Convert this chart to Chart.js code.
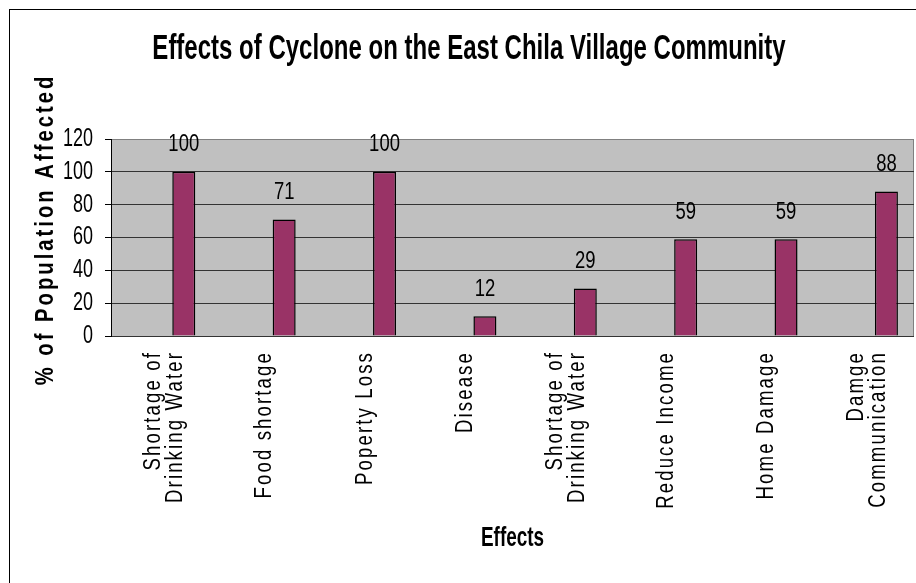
<!DOCTYPE html>
<html>
<head>
<meta charset="utf-8">
<script src="https://cdn.jsdelivr.net/npm/chart.js@4.4.1/dist/chart.umd.min.js"></script>
<style>
  html, body { margin: 0; padding: 0; background: #ffffff; }
  #wrap { width: 916px; height: 583px; }
</style>
</head>
<body>
<div id="wrap"><canvas id="c" width="916" height="583"></canvas></div>
<script>
// ---- data ----
const chartTitle = 'Effects of Cyclone on the East Chila Village Community';
const xTitle = 'Effects';
const yTitle = '% of Population Affected';
const categories = [
  ['Shortage of', 'Drinking Water'],
  'Food shortage',
  'Poperty Loss',
  'Disease',
  ['Shortage of', 'Drinking Water'],
  'Reduce Income',
  'Home Damage',
  ['Damge', 'Communication']
];
const values = [100, 71, 100, 12, 29, 59, 59, 88];
const emptySeries = [];
const yMin = 0;
const yMax = 120;
const yStep = 20;

// ---- styling ----
const FONT = '"Liberation Sans", Arial, sans-serif';
const BAR_COLOR = '#993366';
const PLOT_BG = '#c0c0c0';
const X_LINE_H = 22;

// horizontal squeeze of glyphs (condensed look of the original), keyed by weight+size
const SQUEEZE = { b35: 0.686, b28: 0.675, b25: 0.81, n25: 0.72, n24: 0.77, n23: 0.81 };

const canvas = document.getElementById('c');
const ctx2d = canvas.getContext('2d');
const protoFill = CanvasRenderingContext2D.prototype.fillText;
const protoMeasure = CanvasRenderingContext2D.prototype.measureText;
function squeezeFor(font) {
  const m = /([\d.]+)px/.exec(font);
  if (!m) return 1;
  const bold = /\bbold\b|\b[6-9]00\b/.test(font);
  const key = (bold ? 'b' : 'n') + Math.round(parseFloat(m[1]));
  return SQUEEZE[key] || 1;
}
ctx2d.fillText = function (text, x, y, maxWidth) {
  const sx = squeezeFor(this.font);
  if (sx === 1) {
    return maxWidth === undefined ? protoFill.call(this, text, x, y) : protoFill.call(this, text, x, y, maxWidth);
  }
  this.save();
  this.translate(x, y);
  this.scale(sx, 1);
  if (maxWidth === undefined) protoFill.call(this, text, 0, 0);
  else protoFill.call(this, text, 0, 0, maxWidth / sx);
  this.restore();
};
ctx2d.measureText = function (text) {
  const m = protoMeasure.call(this, text);
  const sx = squeezeFor(this.font);
  if (sx === 1) return m;
  return {
    width: m.width * sx,
    actualBoundingBoxLeft: m.actualBoundingBoxLeft * sx,
    actualBoundingBoxRight: m.actualBoundingBoxRight * sx,
    actualBoundingBoxAscent: m.actualBoundingBoxAscent,
    actualBoundingBoxDescent: m.actualBoundingBoxDescent,
    fontBoundingBoxAscent: m.fontBoundingBoxAscent,
    fontBoundingBoxDescent: m.fontBoundingBoxDescent
  };
};

class SpacedCategory extends Chart.CategoryScale {
  _computeLabelItems(chartArea) {
    const items = super._computeLabelItems(chartArea);
    items.forEach(it => {
      const n = Array.isArray(it.label) ? it.label.length : 1;
      it.options.translation[0] += 3.5 - (n - 1) * X_LINE_H / 2;
    });
    return items;
  }
  drawLabels(chartArea) {
    const ctx = this.ctx;
    ctx.save();
    ctx.letterSpacing = '2.6px';
    super.drawLabels(chartArea);
    ctx.restore();
  }
}
SpacedCategory.id = 'spacedCategory';
SpacedCategory.defaults = {};

class SpacedLinear extends Chart.LinearScale {
  drawTitle() {
    const ctx = this.ctx;
    ctx.save();
    ctx.letterSpacing = '3.7px';
    ctx.translate(0, -8);
    super.drawTitle();
    ctx.restore();
  }
}
SpacedLinear.id = 'spacedLinear';
SpacedLinear.defaults = {};

Chart.register(SpacedCategory, SpacedLinear);

const framePlugin = {
  id: 'frame',
  beforeDraw(chart) {
    const ctx = chart.ctx;
    const a = chart.chartArea;
    ctx.save();
    ctx.fillStyle = '#ffffff';
    ctx.fillRect(0, 0, chart.width, chart.height);
    ctx.strokeStyle = '#000000';
    ctx.lineWidth = 1;
    ctx.strokeRect(9.5, 9.5, chart.width + 10, chart.height + 10);
    ctx.fillStyle = PLOT_BG;
    ctx.fillRect(a.left, a.top, a.right - a.left, a.bottom - a.top);
    ctx.strokeStyle = '#808080';
    ctx.beginPath();
    ctx.moveTo(a.right - 0.5, a.top);
    ctx.lineTo(a.right - 0.5, a.bottom);
    ctx.stroke();
    ctx.restore();
  }
};

const valueLabelPlugin = {
  id: 'valueLabels',
  afterDatasetsDraw(chart) {
    const ctx = chart.ctx;
    const meta = chart.getDatasetMeta(1);
    const data = chart.data.datasets[1].data;
    ctx.save();
    ctx.font = '24px ' + FONT;
    ctx.fillStyle = '#000000';
    ctx.textAlign = 'center';
    ctx.textBaseline = 'alphabetic';
    meta.data.forEach((bar, i) => {
      ctx.fillText(String(data[i]), bar.x, bar.y - 20.5);
    });
    ctx.restore();
  }
};

new Chart(canvas, {
  type: 'bar',
  data: {
    labels: categories,
    datasets: [
      { label: 'Series 1', data: emptySeries, stack: 'a',
        backgroundColor: BAR_COLOR, borderColor: '#000000', borderWidth: 1.5 },
      { label: '% of Population Affected', data: values, stack: 'b',
        backgroundColor: BAR_COLOR, borderColor: '#000000', borderWidth: 1.5 }
    ]
  },
  options: {
    responsive: false,
    devicePixelRatio: 1,
    animation: false,
    datasets: { bar: { categoryPercentage: 0.9006, barPercentage: 0.509 } },
    layout: { padding: { left: 24, right: 2, top: 0, bottom: 0 } },
    plugins: {
      legend: { display: false },
      tooltip: { enabled: false },
      title: {
        display: true,
        text: chartTitle,
        color: '#000000',
        font: { family: FONT, size: 35, weight: 'bold', lineHeight: 1.2 },
        padding: { top: 28.8, bottom: 68.2 }
      }
    },
    scales: {
      x: {
        type: 'spacedCategory',
        offset: true,
        grid: { display: false, drawTicks: false },
        border: { display: false },
        ticks: {
          autoSkip: false,
          minRotation: 90,
          maxRotation: 90,
          padding: 15,
          color: '#000000',
          font: { family: FONT, size: 23, lineHeight: X_LINE_H / 23 }
        },
        title: {
          display: true,
          text: xTitle,
          color: '#000000',
          font: { family: FONT, size: 28, weight: 'bold', lineHeight: 1.2 },
          padding: { top: 0, bottom: 28.2 }
        },
        afterFit(scale) {
          scale.height = 247;
          scale.paddingLeft = 0;
          scale.paddingRight = 0;
        }
      },
      y: {
        type: 'spacedLinear',
        min: yMin,
        max: yMax,
        ticks: {
          stepSize: yStep,
          autoSkip: false,
          maxTicksLimit: 20,
          padding: 12,
          color: '#000000',
          font: { family: FONT, size: 25, lineHeight: 0.9 }
        },
        grid: {
          color: (c) => (c.tick && c.tick.value === yMax) ? '#808080' : '#333333',
          lineWidth: 1,
          drawTicks: true,
          tickLength: 6,
          tickColor: '#000000'
        },
        border: { display: true, color: '#000000', width: 1 },
        title: {
          display: true,
          text: yTitle,
          color: '#000000',
          font: { family: FONT, size: 25, weight: 'bold', lineHeight: 1.2 },
          padding: { top: 6.8, bottom: 0 }
        },
        afterFit(scale) {
          scale.width = 87;
          scale.paddingTop = 0;
          scale.paddingBottom = 0;
        }
      }
    }
  },
  plugins: [framePlugin, valueLabelPlugin]
});
</script>
</body>
</html>
